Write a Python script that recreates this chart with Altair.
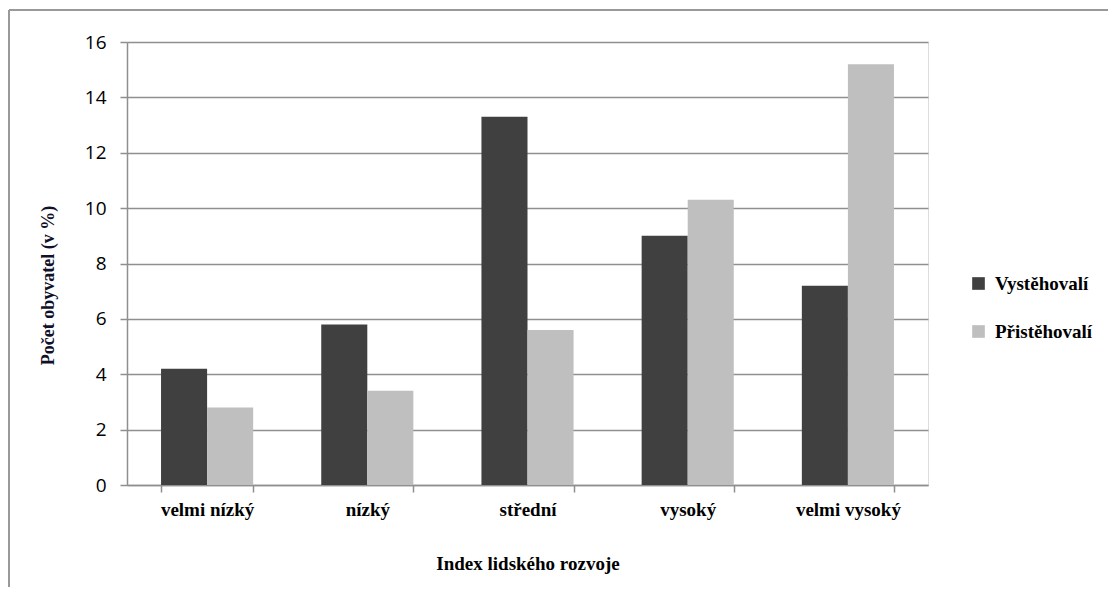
import altair as alt
import pandas as pd

categories = ["velmi nízký", "nízký", "střední", "vysoký", "velmi vysoký"]
series_names = ["Vystěhovalí", "Přistěhovalí"]
vystehovali = [4.2, 5.8, 13.3, 9.0, 7.2]
pristehovali = [2.8, 3.4, 5.6, 10.3, 15.2]
y_ticks = [0, 2, 4, 6, 8, 10, 12, 14, 16]

rows = []
for c, v in zip(categories, vystehovali):
    rows.append({"kat": c, "serie": series_names[0], "hodnota": v})
for c, v in zip(categories, pristehovali):
    rows.append({"kat": c, "serie": series_names[1], "hodnota": v})
df = pd.DataFrame(rows)

W, H = 801, 443
PAD = {"left": 119, "top": 34, "right": 180, "bottom": 102}

serif = "'Liberation Serif', 'Times New Roman', 'DejaVu Serif', serif"

bars = alt.Chart(df).mark_bar().encode(
    x=alt.X("kat:N", sort=categories,
            scale=alt.Scale(paddingInner=0.425, paddingOuter=0.2125),
            axis=alt.Axis(title="Index lidského rozvoje", labelAngle=0,
                          labelFont=serif, labelFontWeight="bold", labelFontSize=19,
                          labelColor="#000000", labelPadding=8,
                          titleFont=serif, titleFontWeight="bold", titleFontSize=19,
                          titleColor="#000000", titleY=78, titleBaseline="middle",
                          tickBand="extent", tickSize=7, tickColor="#8f8f8f", tickWidth=1.5,
                          domainColor="#8f8f8f", domainWidth=1.5, grid=False)),
    xOffset=alt.XOffset("serie:N", sort=series_names, scale=alt.Scale(paddingInner=0, paddingOuter=0)),
    y=alt.Y("hodnota:Q", scale=alt.Scale(domain=[0, 16], nice=False),
            axis=alt.Axis(title="Počet obyvatel (v %)", values=y_ticks, format="d",
                          labelFont="Open Sans", labelFontSize=19, labelColor="#000000",
                          labelPadding=14,
                          titleFont=serif, titleFontWeight="bold", titleFontSize=18,
                          titleColor="#10102a", titleX=-79, titleY=243, titleAngle=-90,
                          titleAlign="center", titleBaseline="middle",
                          tickSize=7, tickColor="#8f8f8f", tickWidth=1.5,
                          domainColor="#8f8f8f", domainWidth=1.5,
                          grid=True, gridColor="#8f8f8f", gridWidth=1.5)),
    color=alt.Color("serie:N", sort=series_names,
                    scale=alt.Scale(domain=series_names, range=["#404040", "#BFBFBF"]),
                    legend=alt.Legend(title=None, orient="none", legendX=842, legendY=232,
                                      symbolType="square", symbolSize=160, symbolStrokeWidth=0,
                                      labelFont=serif, labelFontWeight="bold", labelFontSize=19,
                                      labelColor="#000000", rowPadding=28, labelOffset=7)),
)

frame_df = pd.DataFrame({"a": [0]})
frame_left = alt.Chart(frame_df).mark_rule(color="#999999", strokeWidth=2).encode(
    x=alt.value(-118), y=alt.value(-32), y2=alt.value(H + PAD["bottom"]))
frame_top = alt.Chart(frame_df).mark_rule(color="#999999", strokeWidth=2).encode(
    x=alt.value(-118), x2=alt.value(W + PAD["right"]), y=alt.value(-32))

chart = alt.layer(bars, frame_left, frame_top).properties(
    width=W, height=H, autosize=alt.AutoSizeParams(type="none"), padding=PAD
).configure_view(stroke=None).configure(background="white")

chart.save("out.html", embed_options={"renderer": "svg", "actions": False})
